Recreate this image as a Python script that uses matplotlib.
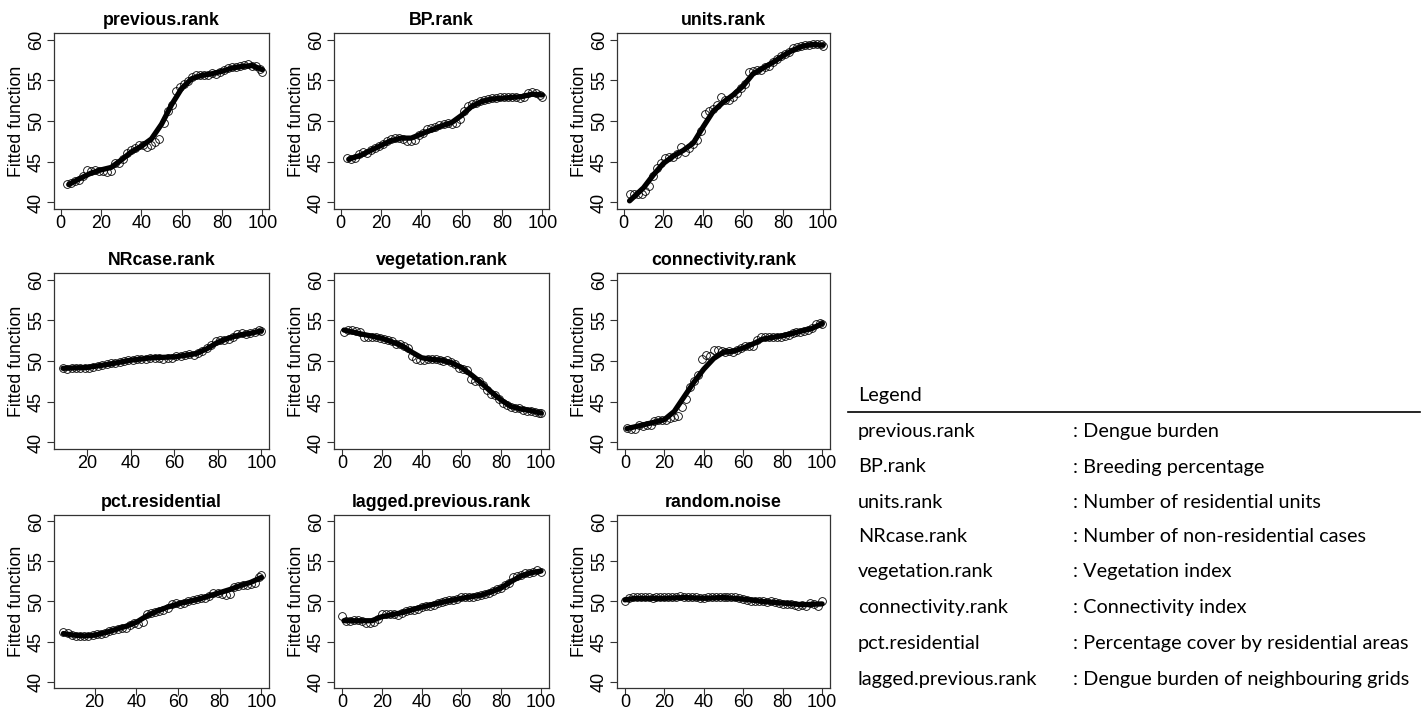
import matplotlib
matplotlib.use("Agg")
from matplotlib import pyplot as plt
from matplotlib.lines import Line2D

plt.rcParams['font.family'] = ['Liberation Sans', 'DejaVu Sans']

W, H = 1422, 711

titles = ['previous.rank', 'BP.rank', 'units.rank',
          'NRcase.rank', 'vegetation.rank', 'connectivity.rank',
          'pct.residential', 'lagged.previous.rank', 'random.noise']

# ---- points (open circles) ----
prev_x = list(range(3, 101, 2)) + [100]
prev_y = [42.3, 42.4, 42.6, 42.7, 43.3, 44.0, 43.9, 44.0, 43.9, 43.9, 43.8, 43.9, 44.8, 44.8,
          45.3, 46.1, 46.5, 46.7, 47.0, 47.1, 46.8, 47.0, 47.4, 47.8, 49.8, 51.2, 52.0, 53.7,
          54.2, 54.5, 54.9, 55.4, 55.7, 55.7, 55.6, 55.7, 55.9, 55.8, 56.0, 56.2, 56.5, 56.6,
          56.6, 56.8, 56.9, 57.0, 56.8, 56.7, 56.4, 56.0]
bp_x = list(range(3, 101, 2)) + [100]
bp_y = [45.5, 45.3, 45.5, 45.9, 46.2, 46.1, 46.4, 46.7, 46.9, 47.2, 47.5, 47.8, 47.9, 47.9,
        47.8, 47.6, 47.6, 47.7, 48.3, 48.5, 49.0, 49.2, 49.3, 49.5, 49.6, 49.7, 49.6, 49.8,
        50.3, 51.2, 51.9, 52.1, 52.2, 52.4, 52.6, 52.7, 52.8, 52.8, 52.9, 53.0, 52.9, 52.9,
        52.9, 52.8, 53.0, 53.4, 53.5, 53.4, 53.2, 52.9]
units_x = list(range(3, 101, 2)) + [100]
units_y = [41.0, 41.0, 41.0, 41.1, 41.4, 42.0, 43.3, 44.2, 44.8, 45.4, 45.6, 45.6, 46.0, 46.8,
           46.2, 46.7, 47.2, 47.7, 48.8, 50.8, 51.2, 51.5, 52.0, 52.9, 52.6, 52.6, 52.9, 53.4,
           54.0, 54.6, 56.0, 56.1, 56.2, 56.3, 56.6, 56.8, 57.3, 57.6, 58.0, 58.2, 58.5, 58.9,
           59.1, 59.2, 59.3, 59.3, 59.4, 59.5, 59.4, 59.2]
nr_x = list(range(9, 101, 2)) + [100]
nr_y = [49.2, 49.0, 49.1, 49.1, 49.1, 49.2, 49.2, 49.3, 49.4, 49.5, 49.6, 49.7, 49.7, 49.9,
        50.0, 50.1, 50.1, 50.2, 50.3, 50.3, 50.4, 50.4, 50.4, 50.3, 50.4, 50.4, 50.6, 50.6,
        50.7, 50.8, 50.7, 51.0, 51.2, 51.6, 52.0, 52.4, 52.6, 52.6, 52.7, 53.0, 53.3, 53.4,
        53.3, 53.4, 53.6, 53.8, 53.7]
veg_x = list(range(1, 101, 2)) + [100]
veg_y = [53.6, 53.8, 53.8, 53.7, 53.5, 53.0, 53.0, 53.0, 52.9, 52.8, 52.7, 52.6, 52.4, 52.1,
         52.1, 51.8, 51.6, 50.6, 50.3, 50.1, 50.1, 50.2, 50.2, 50.2, 50.1, 50.0, 50.1, 49.9,
         49.6, 49.1, 49.0, 48.9, 47.8, 47.6, 47.6, 47.0, 46.5, 46.0, 45.8, 45.3, 44.9, 44.6,
         44.3, 44.2, 44.2, 44.0, 43.9, 43.9, 43.8, 43.6, 43.6]
conn_x = list(range(1, 101, 2)) + [100]
conn_y = [41.8, 41.6, 41.6, 42.1, 42.0, 42.2, 42.2, 42.6, 42.8, 42.7, 42.7, 43.0, 43.1, 43.2,
          44.3, 45.3, 46.8, 47.5, 48.3, 50.3, 50.7, 50.6, 51.3, 51.3, 51.2, 51.1, 51.2, 51.1,
          51.4, 51.6, 51.8, 51.8, 51.8, 52.6, 52.9, 53.0, 52.9, 53.0, 53.0, 53.0, 53.1, 53.2,
          53.4, 53.5, 53.6, 53.7, 53.8, 54.1, 54.6, 54.7, 54.6]
pct_x = list(range(5, 101, 2)) + [100]
pct_y = [46.2, 46.1, 45.8, 45.7, 45.7, 45.7, 45.7, 45.8, 45.9, 45.9, 46.1, 46.3, 46.5, 46.6,
         46.7, 46.7, 47.1, 47.3, 47.2, 47.4, 48.4, 48.6, 48.7, 48.8, 48.9, 49.2, 49.7, 49.8,
         49.7, 49.8, 50.0, 50.2, 50.3, 50.4, 50.4, 50.7, 51.0, 51.1, 50.9, 50.8, 50.9, 51.8,
         51.9, 52.0, 52.1, 52.2, 52.3, 53.0, 53.3]
lag_x = list(range(0, 101, 2))
lag_y = [48.2, 47.6, 47.6, 47.7, 47.7, 47.6, 47.3, 47.3, 47.5, 47.8, 48.4, 48.4, 48.4, 48.4,
         48.3, 48.6, 48.8, 48.9, 49.0, 49.1, 49.3, 49.4, 49.5, 49.6, 49.8, 49.9, 50.0, 50.2,
         50.2, 50.3, 50.5, 50.5, 50.5, 50.5, 50.7, 50.8, 50.9, 51.1, 51.3, 51.5, 51.7, 52.0,
         52.3, 53.0, 53.2, 53.3, 53.5, 53.6, 53.7, 53.9, 53.7]
noise_x = list(range(0, 101, 2))
noise_y = [50.0, 50.4, 50.5, 50.5, 50.5, 50.5, 50.5, 50.4, 50.5, 50.5, 50.5, 50.5, 50.5, 50.6,
           50.7, 50.6, 50.5, 50.5, 50.5, 50.4, 50.4, 50.5, 50.6, 50.6, 50.5, 50.5, 50.5, 50.5,
           50.5, 50.4, 50.3, 50.2, 50.1, 50.1, 50.0, 50.0, 49.9, 50.0, 49.9, 49.8, 49.7, 49.7,
           49.7, 49.6, 49.5, 49.6, 49.5, 49.8, 49.7, 49.5, 50.1]

# ---- fitted smooth lines ----
prev_lx = [4, 10, 15, 20, 25, 30, 35, 40, 45, 50, 55, 60, 65, 70, 75, 80, 85, 90, 95, 100]
prev_ly = [42.2, 43.0, 43.6, 44.0, 44.3, 45.2, 46.2, 46.9, 47.8, 49.6, 52.0, 54.0, 55.2, 55.6,
           55.8, 56.1, 56.5, 56.7, 56.8, 56.3]
bp_lx = [4, 10, 15, 20, 25, 30, 35, 40, 45, 50, 55, 60, 65, 70, 75, 80, 85, 90, 95, 100]
bp_ly = [45.3, 45.8, 46.4, 47.0, 47.6, 47.9, 47.9, 48.4, 48.9, 49.4, 49.8, 50.7, 51.8, 52.4,
         52.7, 52.8, 52.9, 53.0, 53.3, 53.2]
units_lx = [3, 10, 15, 20, 25, 30, 35, 40, 45, 50, 55, 60, 65, 70, 75, 80, 85, 90, 95, 100]
units_ly = [40.2, 41.8, 43.4, 44.8, 45.7, 46.4, 47.3, 49.3, 51.2, 52.3, 53.2, 54.3, 55.8, 56.5,
            57.2, 58.0, 58.7, 59.2, 59.4, 59.3]
nr_lx = [9, 20, 30, 40, 50, 60, 70, 75, 80, 85, 90, 95, 100]
nr_ly = [49.1, 49.2, 49.6, 50.1, 50.4, 50.5, 50.9, 51.5, 52.3, 52.8, 53.2, 53.4, 53.7]
veg_lx = [1, 10, 20, 30, 35, 40, 45, 50, 55, 60, 65, 70, 75, 80, 85, 90, 95, 100]
veg_ly = [53.8, 53.3, 52.8, 51.9, 51.1, 50.4, 50.2, 50.1, 49.8, 49.2, 48.3, 47.3, 46.2, 45.2,
          44.4, 44.1, 43.9, 43.6]
conn_lx = [1, 10, 20, 25, 30, 35, 40, 45, 50, 55, 60, 65, 70, 80, 90, 95, 100]
conn_ly = [41.7, 42.2, 42.8, 43.8, 45.6, 47.4, 49.0, 50.3, 51.1, 51.2, 51.6, 52.1, 52.7, 53.1,
           53.7, 54.0, 54.6]
pct_lx = [5, 10, 15, 20, 25, 30, 35, 40, 45, 50, 55, 60, 65, 70, 75, 80, 85, 90, 95, 100]
pct_ly = [46.0, 45.8, 45.7, 45.8, 46.1, 46.5, 46.9, 47.4, 48.2, 48.8, 49.3, 49.7, 50.0, 50.3,
          50.7, 51.1, 51.5, 52.0, 52.4, 53.0]
lag_lx = [1, 10, 15, 20, 30, 40, 50, 60, 70, 75, 80, 85, 90, 95, 100]
lag_ly = [47.6, 47.6, 47.6, 48.1, 48.6, 49.3, 49.9, 50.4, 50.8, 51.2, 51.7, 52.5, 53.2, 53.6, 53.8]
noise_lx = [0, 5, 20, 30, 40, 50, 60, 70, 80, 90, 100]
noise_ly = [50.2, 50.4, 50.4, 50.5, 50.4, 50.5, 50.3, 50.0, 49.8, 49.6, 49.7]

points = [(prev_x, prev_y), (bp_x, bp_y), (units_x, units_y),
          (nr_x, nr_y), (veg_x, veg_y), (conn_x, conn_y),
          (pct_x, pct_y), (lag_x, lag_y), (noise_x, noise_y)]
lines = [(prev_lx, prev_ly), (bp_lx, bp_ly), (units_lx, units_ly),
         (nr_lx, nr_ly), (veg_lx, veg_ly), (conn_lx, conn_ly),
         (pct_lx, pct_ly), (lag_lx, lag_ly), (noise_lx, noise_ly)]
xlims = [(-3.3, 103.3), (-3.3, 103.3), (-3.3, 103.6),
         (4.9, 103.5), (-4, 104), (-4, 104),
         (0.5, 103.7), (-4, 104), (-4, 104)]

legend_names = ['previous.rank', 'BP.rank', 'units.rank', 'NRcase.rank', 'vegetation.rank',
                'connectivity.rank', 'pct.residential', 'lagged.previous.rank']
legend_desc = [': Dengue burden', ': Breeding percentage', ': Number of residential units',
               ': Number of non-residential cases', ': Vegetation index', ': Connectivity index',
               ': Percentage cover by residential areas', ': Dengue burden of neighbouring grids']

fig = plt.figure(figsize=(W/100, H/100), dpi=100)

col_left = [54, 334, 617]
col_w = [215, 215, 213]
row_top = [33, 273, 515]
row_h = [176, 176, 173]

for i in range(9):
    r, c = divmod(i, 3)
    ax = fig.add_axes([col_left[c]/W, 1-(row_top[r]+row_h[r])/H, col_w[c]/W, row_h[r]/H])
    px, py = points[i]
    lx, ly = lines[i]
    ax.plot(px, py, 'o', mfc='none', mec='black', ms=5.6, mew=0.6, zorder=2)
    ax.plot(lx, ly, '-', color='black', lw=3.8, solid_capstyle='round', zorder=3)
    ax.set_xlim(*xlims[i])
    ax.set_ylim(39.2, 60.8)
    ax.set_yticks([40, 45, 50, 55, 60])
    ax.set_xticks([t for t in [0, 20, 40, 60, 80, 100] if t >= xlims[i][0]])
    ax.tick_params(labelsize=13, length=5, width=0.8, color='#333333')
    ax.tick_params(axis='y', pad=1.5)
    ax.tick_params(axis='x', pad=-0.5)
    plt.setp(ax.get_yticklabels(), rotation=90, va='center')
    for s in ax.spines.values():
        s.set_linewidth(0.9)
        s.set_color('#333333')
    ax.set_title(titles[i], fontsize=12.8, fontweight='bold', pad=6)
    ax.set_ylabel('Fitted function', fontsize=12.8, labelpad=2)

# legend table on the right
lf = ['Lato', 'DejaVu Sans']
fig.text(858/W, 1-396/H, 'Legend', fontsize=14.3, family=lf, va='center', ha='left')
fig.add_artist(Line2D([848/W, 1420/W], [1-412/H, 1-412/H], color='black', lw=1.2))
row_y = [432, 467, 502, 537, 572, 607, 643, 679]
for name, desc, yy in zip(legend_names, legend_desc, row_y):
    fig.text(858/W, 1-yy/H, name, fontsize=14.3, family=lf, va='center', ha='left')
    fig.text(1073/W, 1-yy/H, desc, fontsize=14.3, family=lf, va='center', ha='left')

plt.savefig('out.png', dpi=100)
